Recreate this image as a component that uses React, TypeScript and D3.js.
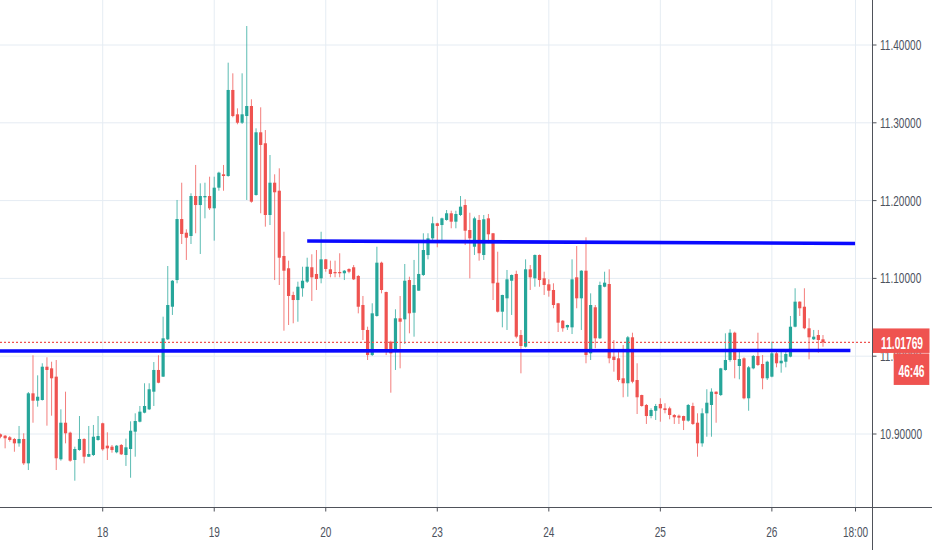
import React, { useRef, useEffect } from 'react';
import * as d3 from 'd3';

// hourly bars (index 0 = left edge)
const opens = [
  10.8996, 10.8978, 10.8958, 10.8936, 10.8880, 10.8936, 10.8623, 10.9523, 10.9428, 10.9437,
  10.9865, 10.9844, 10.9737, 10.8675, 10.9145, 10.9017, 10.8666, 10.8794, 10.8936, 10.8708,
  10.8730, 10.8923, 10.9138, 10.8850, 10.8837, 10.8765, 10.8859, 10.8730, 10.8807, 10.9030,
  10.9158, 10.9274, 10.9317, 10.9544, 10.9823, 10.9737, 11.0217, 11.0636, 11.0979, 11.1763,
  11.1587, 11.1545, 11.2059, 11.1943, 11.2042, 11.2059, 11.1901, 11.2166, 11.2338, 11.2316,
  11.3422, 11.3109, 11.3001, 11.3087, 11.3216, 11.2072, 11.2878, 11.2737, 11.1815, 11.2230,
  11.2127, 11.1288, 11.1130, 11.0787, 11.0722, 11.0873, 11.0958, 11.1143, 11.1057, 11.1001,
  11.1245, 11.1117, 11.1082, 11.1082, 11.1066, 11.1121, 11.1143, 11.1031, 11.0658, 11.0337,
  11.0015, 11.0517, 11.1202, 11.0825, 11.0186, 11.0080, 11.0487, 11.0474, 11.0979, 11.0559,
  11.0842, 11.1044, 11.1300, 11.1515, 11.1708, 11.1686, 11.1751, 11.1837, 11.1729, 11.1815,
  11.1943, 11.1622, 11.1407, 11.1751, 11.1301, 11.1772, 11.1580, 11.0945, 11.0572, 11.0744,
  11.0970, 11.1057, 11.0272, 11.0122, 11.1117, 11.1001, 11.1301, 11.1001, 11.0924, 11.0851,
  11.0680, 11.0456, 11.0371, 11.0371, 11.1014, 11.0744, 11.1099, 11.0037, 11.0629, 11.0230,
  11.0893, 11.0928, 10.9994, 10.9973, 10.9716, 10.9652, 11.0243, 10.9694, 10.9501, 10.9373,
  10.9231, 10.9299, 10.9386, 10.9330, 10.9330, 10.9244, 10.9235, 10.9231, 10.9171, 10.9360,
  10.9145, 10.8880, 10.9266, 10.9373, 10.9544, 10.9501, 10.9823, 10.9951, 11.0302, 10.9874,
  10.9973, 10.9459, 10.9844, 11.0003, 10.9900, 10.9716, 10.9737, 11.0037, 10.9909, 10.9929,
  10.9994, 11.0379, 11.0701, 11.0636, 11.0359, 11.0217, 11.0272, 11.0217,
];
const highs = [
  10.9006, 10.8987, 10.8974, 10.8949, 10.9103, 10.9009, 10.9540, 11.0012, 10.9754, 10.9909,
  10.9986, 10.9929, 10.9951, 10.9317, 10.9544, 10.9030, 10.8837, 10.9231, 10.8945, 10.9103,
  10.9116, 10.9231, 10.9145, 10.9022, 10.8859, 10.8859, 10.8871, 10.8940, 10.9163, 10.9266,
  10.9360, 10.9652, 10.9652, 10.9925, 11.0012, 11.0508, 11.1159, 11.0979, 11.2008, 11.2230,
  11.1631, 11.2094, 11.2458, 11.2222, 11.2230, 11.2307, 11.2307, 11.2371, 11.2458, 11.3773,
  11.3636, 11.3186, 11.3636, 11.4244, 11.3302, 11.2929, 11.3199, 11.2907, 11.2586, 11.2338,
  11.2415, 11.1600, 11.1228, 11.0829, 11.0958, 11.1150, 11.1266, 11.1310, 11.1365, 11.1600,
  11.1250, 11.1228, 11.1228, 11.1323, 11.1108, 11.1130, 11.1172, 11.1044, 11.0774, 11.0379,
  11.0680, 11.1407, 11.1215, 11.0830, 11.0199, 11.0603, 11.0774, 11.1185, 11.1022, 11.1237,
  11.1451, 11.1580, 11.1580, 11.1793, 11.1715, 11.1780, 11.1879, 11.1870, 11.1870, 11.2059,
  11.2017, 11.1844, 11.1793, 11.1815, 11.1815, 11.1828, 11.1584, 11.1343, 11.0790, 11.1108,
  11.1050, 11.1099, 11.0337, 11.1245, 11.1172, 11.1307, 11.1307, 11.1086, 11.0988, 11.0937,
  11.0685, 11.0465, 11.0405, 11.1245, 11.1416, 11.1105, 11.1528, 11.0808, 11.0658, 11.0958,
  11.1086, 11.1117, 11.0208, 11.0058, 11.0144, 11.0260, 11.0302, 10.9909, 10.9505, 10.9386,
  10.9330, 10.9386, 10.9459, 10.9395, 10.9351, 10.9257, 10.9250, 10.9235, 10.9386, 10.9402,
  10.9266, 10.9330, 10.9575, 10.9587, 10.9548, 10.9850, 11.0294, 11.0346, 11.0315, 11.0089,
  10.9986, 10.9874, 11.0015, 11.0302, 11.0015, 10.9942, 11.0186, 11.0058, 11.0080, 11.0089,
  11.0517, 11.0873, 11.0705, 11.0873, 11.0487, 11.0337, 11.0337, 11.0272,
];
const lows = [
  10.8945, 10.8816, 10.8901, 10.8772, 10.8837, 10.8602, 10.8537, 10.9145, 10.9351, 10.9430,
  10.9107, 10.9235, 10.8537, 10.8657, 10.8880, 10.8644, 10.8400, 10.8785, 10.8623, 10.8704,
  10.8717, 10.8914, 10.8785, 10.8666, 10.8760, 10.8752, 10.8730, 10.8589, 10.8438, 10.8708,
  10.9150, 10.9266, 10.9308, 10.9360, 10.9652, 10.9733, 11.0208, 11.0530, 11.0937, 11.1442,
  11.1237, 11.1442, 11.1580, 11.1314, 11.1772, 11.1879, 11.1485, 11.2127, 11.2127, 11.2307,
  11.3071, 11.2981, 11.2985, 11.2008, 11.1973, 11.2063, 11.1837, 11.1665, 11.1686, 11.0979,
  11.0915, 11.0328, 11.0401, 11.0423, 11.0443, 11.0765, 11.0941, 11.0710, 11.0851, 11.0937,
  11.1086, 11.1014, 11.1014, 11.1014, 11.0979, 11.1066, 11.0979, 11.0551, 11.0208, 10.9951,
  11.0003, 11.0508, 11.0808, 11.0015, 10.9531, 10.9823, 10.9844, 11.0157, 11.0294, 11.0251,
  11.0842, 11.1031, 11.1245, 11.1494, 11.1400, 11.1472, 11.1742, 11.1644, 11.1644, 11.1802,
  11.1429, 11.1001, 11.1301, 11.1228, 11.1237, 11.1451, 11.0722, 11.0562, 11.0371, 11.0337,
  11.0530, 11.0230, 10.9780, 11.0112, 11.0851, 11.0893, 11.0893, 11.0787, 11.0765, 11.0616,
  11.0311, 11.0315, 11.0337, 11.0285, 11.0616, 11.0337, 10.9909, 10.9951, 11.0102, 11.0221,
  11.0886, 10.9909, 10.9801, 10.9672, 10.9472, 10.9479, 10.9652, 10.9257, 10.9351, 10.9129,
  10.9202, 10.9180, 10.9158, 10.9266, 10.9189, 10.9129, 10.9129, 10.9051, 10.9158, 10.9116,
  10.8708, 10.8837, 10.8965, 10.8965, 10.9145, 10.9488, 10.9814, 10.9929, 10.9716, 10.9703,
  10.9446, 10.9299, 10.9832, 10.9874, 10.9575, 10.9694, 10.9729, 10.9857, 10.9788, 10.9857,
  10.9986, 11.0371, 11.0517, 11.0346, 10.9960, 11.0208, 11.0045, 11.0122,
];
const closes = [
  10.8965, 10.8945, 10.8923, 10.8880, 10.8936, 10.8623, 10.9523, 10.9428, 10.9479, 10.9865,
  10.9823, 10.9716, 10.8688, 10.9145, 10.9009, 10.8657, 10.8807, 10.8936, 10.8708, 10.8743,
  10.8965, 10.8974, 10.8803, 10.8816, 10.8794, 10.8850, 10.8739, 10.8829, 10.9042, 10.9167,
  10.9287, 10.9360, 10.9575, 10.9823, 10.9659, 11.0230, 11.0658, 11.0970, 11.1763, 11.1571,
  11.1523, 11.2059, 11.1943, 11.2059, 11.2059, 11.1901, 11.2166, 11.2359, 11.2316, 11.3422,
  11.3087, 11.3001, 11.3109, 11.3216, 11.1986, 11.2878, 11.2715, 11.1815, 11.2230, 11.2107,
  11.1266, 11.1099, 11.0774, 11.0722, 11.0893, 11.0970, 11.1150, 11.1014, 11.0992, 11.1245,
  11.1121, 11.1057, 11.1066, 11.1066, 11.1099, 11.1086, 11.0988, 11.0636, 11.0337, 11.0015,
  11.0551, 11.1202, 11.0851, 11.0080, 11.0037, 11.0487, 11.0443, 11.0970, 11.0551, 11.0915,
  11.1057, 11.1365, 11.1515, 11.1708, 11.1674, 11.1772, 11.1837, 11.1729, 11.1828, 11.1922,
  11.1613, 11.1515, 11.1772, 11.1323, 11.1760, 11.1567, 11.0937, 11.0572, 11.0787, 11.0988,
  11.1044, 11.0251, 11.0131, 11.1117, 11.1014, 11.1301, 11.0979, 11.0915, 11.0842, 11.0658,
  11.0431, 11.0359, 11.0401, 11.0988, 11.0744, 11.1099, 11.0015, 11.0658, 11.0230, 11.0915,
  11.0945, 10.9973, 10.9951, 10.9694, 10.9652, 11.0243, 10.9672, 10.9472, 10.9360, 10.9231,
  10.9308, 10.9360, 10.9330, 10.9308, 10.9244, 10.9215, 10.9210, 10.9171, 10.9373, 10.9129,
  10.8880, 10.9266, 10.9402, 10.9544, 10.9514, 10.9844, 10.9951, 11.0302, 10.9951, 10.9964,
  10.9459, 10.9857, 11.0003, 10.9887, 10.9716, 10.9929, 11.0037, 10.9909, 10.9942, 11.0028,
  11.0379, 11.0701, 11.0616, 11.0359, 11.0243, 11.0251, 11.0208, 11.01769,
];

const timeTicks = [22, 46, 70, 94, 118, 142, 166, 184];
const timeLabels = ['18', '19', '20', '23', '24', '25', '26', '18:00'];
const priceTicks = [10.9, 11.0, 11.1, 11.2, 11.3, 11.4];

// hand drawn levels: [bar, price] end points
const upperLevel = [[66, 11.1481], [183.9, 11.1449]];
const lowerLevel = [[-0.2, 11.0067], [182.9, 11.0073]];

const lastPrice = 11.01769;
const countdown = '46:46';

const W = 932;
const H = 550;
const plotRight = 872.5;
const plotBottom = 507.5;

const up = '#26a69a';
const down = '#ef5350';

const App: React.FC = () => {
  const ref = useRef<SVGSVGElement | null>(null);

  useEffect(() => {
    if (!ref.current) return;
    const svg = d3.select(ref.current);
    svg.selectAll('*').remove();

    const x = d3.scaleLinear().domain([0, 187.6]).range([0.47, 872.25]);
    const y = d3.scaleLinear().domain([10.9, 11.4]).range([434, 45]);
    const bw = 3.2;

    svg.append('rect').attr('width', W).attr('height', H).attr('fill', '#ffffff');

    svg.append('defs').append('clipPath').attr('id', 'plot')
      .append('rect').attr('x', 0).attr('y', 0).attr('width', plotRight).attr('height', plotBottom);

    // grid
    const grid = svg.append('g').attr('stroke', '#e5ecf3').attr('stroke-width', 1);
    grid.selectAll('line.v').data(timeTicks).join('line')
      .attr('x1', d => x(d)).attr('x2', d => x(d))
      .attr('y1', 0).attr('y2', plotBottom);
    grid.selectAll('line.h').data(priceTicks).join('line')
      .attr('x1', 0).attr('x2', plotRight)
      .attr('y1', d => y(d)).attr('y2', d => y(d));

    const plot = svg.append('g').attr('clip-path', 'url(#plot)');
    const idx = d3.range(closes.length);

    // wicks
    plot.append('g').selectAll('line').data(idx).join('line')
      .attr('x1', i => x(i)).attr('x2', i => x(i))
      .attr('y1', i => y(highs[i])).attr('y2', i => y(lows[i]))
      .attr('stroke', i => (closes[i] >= opens[i] ? up : down))
      .attr('stroke-opacity', 0.75)
      .attr('stroke-width', 1);

    // bodies
    plot.append('g').selectAll('rect').data(idx).join('rect')
      .attr('x', i => x(i) - bw / 2)
      .attr('width', bw)
      .attr('y', i => y(Math.max(opens[i], closes[i])))
      .attr('height', i => Math.max(1, Math.abs(y(opens[i]) - y(closes[i]))))
      .attr('fill', i => (closes[i] >= opens[i] ? up : down));

    // last price line
    plot.append('line')
      .attr('x1', 0).attr('x2', plotRight)
      .attr('y1', y(lastPrice)).attr('y2', y(lastPrice))
      .attr('stroke', down).attr('stroke-width', 1.3)
      .attr('stroke-dasharray', '2,2');

    // drawn levels
    const line = d3.line<number[]>().x(d => x(d[0])).y(d => y(d[1]));
    [upperLevel, lowerLevel].forEach(lv => {
      plot.append('path').attr('d', line(lv) as string)
        .attr('fill', 'none').attr('stroke', '#0a0aff').attr('stroke-width', 3.6);
    });

    // axes
    const axisColor = '#4f525a';
    svg.append('line').attr('x1', 0).attr('x2', W)
      .attr('y1', plotBottom).attr('y2', plotBottom)
      .attr('stroke', axisColor).attr('stroke-width', 1);
    svg.append('line').attr('x1', plotRight).attr('x2', plotRight)
      .attr('y1', 0).attr('y2', H)
      .attr('stroke', axisColor).attr('stroke-width', 1);

    const font = "'Liberation Sans', Arial, sans-serif";
    const textColor = '#4c525e';
    const fmt = d3.format('.5f');

    svg.append('g').selectAll('line').data(priceTicks).join('line')
      .attr('x1', plotRight).attr('x2', plotRight + 4)
      .attr('y1', d => y(d)).attr('y2', d => y(d))
      .attr('stroke', axisColor);
    svg.append('g').selectAll('text').data(priceTicks).join('text')
      .attr('transform', d => `translate(880,${y(d)}) scale(0.72,1)`)
      .attr('dy', '0.36em')
      .attr('font-family', font).attr('font-size', 14)
      .attr('fill', textColor)
      .text(d => fmt(d));

    svg.append('g').selectAll('line').data(timeTicks).join('line')
      .attr('x1', d => x(d)).attr('x2', d => x(d))
      .attr('y1', plotBottom).attr('y2', plotBottom + 4)
      .attr('stroke', axisColor);
    svg.append('g').selectAll('text').data(timeTicks).join('text')
      .attr('transform', d => `translate(${x(d)},531.5) scale(0.72,1)`)
      .attr('dy', '0.36em')
      .attr('text-anchor', 'middle')
      .attr('font-family', font).attr('font-size', 14)
      .attr('fill', textColor)
      .text((_d, i) => timeLabels[i]);

    // price + countdown labels
    const py = y(lastPrice);
    svg.append('rect').attr('x', plotRight + 0.5).attr('y', py - 14)
      .attr('width', 56.5).attr('height', 24.5).attr('fill', down);
    svg.append('text')
      .attr('transform', `translate(902,${py}) scale(0.6,1)`)
      .attr('dy', '0.36em').attr('text-anchor', 'middle')
      .attr('font-family', font).attr('font-size', 17).attr('font-weight', 'bold')
      .attr('fill', '#ffffff').text(lastPrice.toFixed(5));
    svg.append('rect').attr('x', 893.7).attr('y', py + 11)
      .attr('width', 35.6).attr('height', 31.5).attr('fill', down);
    svg.append('text')
      .attr('transform', `translate(911.5,${py + 28}) scale(0.6,1)`)
      .attr('dy', '0.36em').attr('text-anchor', 'middle')
      .attr('font-family', font).attr('font-size', 17).attr('font-weight', 'bold')
      .attr('fill', '#ffffff').text(countdown);
  }, []);

  return (
    <svg
      ref={ref}
      width={W}
      height={H}
      style={{ position: 'absolute', left: 0, top: 0, display: 'block' }}
    />
  );
};

export default App;
